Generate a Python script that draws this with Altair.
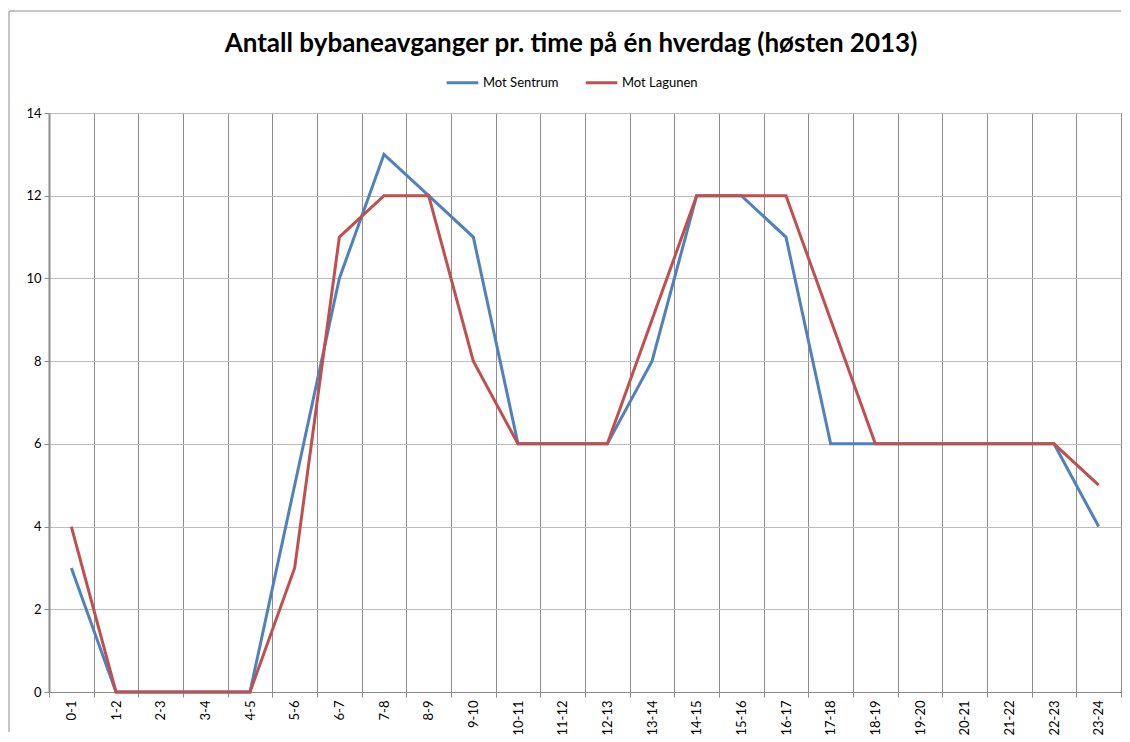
import altair as alt
import pandas as pd

hours = ["0-1", "1-2", "2-3", "3-4", "4-5", "5-6", "6-7", "7-8", "8-9", "9-10",
         "10-11", "11-12", "12-13", "13-14", "14-15", "15-16", "16-17", "17-18",
         "18-19", "19-20", "20-21", "21-22", "22-23", "23-24"]
sentrum = [3, 0, 0, 0, 0, 5, 10, 13, 12, 11, 6, 6, 6, 8, 12, 12, 11, 6, 6, 6, 6, 6, 6, 4]
lagunen = [4, 0, 0, 0, 0, 3, 11, 12, 12, 8, 6, 6, 6, 9, 12, 12, 12, 9, 6, 6, 6, 6, 6, 5]
series = ["Mot Sentrum", "Mot Lagunen"]
colors = ["#4F81BD", "#C0504D"]
y_ticks = [0, 2, 4, 6, 8, 10, 12, 14]

df = pd.DataFrame({
    "time": hours * 2,
    "verdi": sentrum + lagunen,
    "retning": [series[0]] * len(hours) + [series[1]] * len(hours),
})

W = 1072
H = 579

lines = alt.Chart(df).mark_line(strokeWidth=3).encode(
    x=alt.X("time:N", sort=hours, bandPosition=0.5,
            scale=alt.Scale(type="band", paddingInner=0, paddingOuter=0),
            axis=alt.Axis(title=None, labelAngle=-90, tickBand="extent", grid=True,
                          gridColor="#8c8c8c", gridWidth=1, domainColor="#8c8c8c",
                          tickColor="#8c8c8c", tickSize=5, labelFontSize=13,
                          labelPadding=3, labelColor="#000000")),
    y=alt.Y("verdi:Q", scale=alt.Scale(domain=[0, 14], nice=False),
            axis=alt.Axis(title=None, values=y_ticks, grid=True, gridColor="#bcbcbc",
                          domainColor="#8c8c8c", domainWidth=2, tickColor="#8c8c8c",
                          tickSize=5, labelFontSize=13, labelPadding=3,
                          labelColor="#000000")),
    color=alt.Color("retning:N", scale=alt.Scale(domain=series, range=colors),
                    legend=alt.Legend(title=None, orient="none", legendX=396, legendY=-48,
                                      direction="horizontal", symbolType="stroke",
                                      symbolSize=1000, symbolStrokeWidth=3,
                                      labelFontSize=13, labelOffset=3,
                                      columnPadding=20, labelColor="#000000")),
)

frame_src = pd.DataFrame({"k": [0]})
left_rule = alt.Chart(frame_src).mark_rule(color="#8c8c8c", strokeWidth=1).encode(
    x=alt.value(-40), y=alt.value(-102), y2=alt.value(H + 40))
top_rule = alt.Chart(frame_src).mark_rule(color="#8c8c8c", strokeWidth=1).encode(
    x=alt.value(-40), x2=alt.value(W), y=alt.value(-102))

chart = alt.layer(left_rule, top_rule, lines).properties(
    width=W, height=H,
    title=alt.Title("Antall bybaneavganger pr. time på én hverdag (høsten 2013)",
                    fontSize=26, fontWeight="bold", font="Lato", anchor="middle",
                    frame="bounds", offset=-46, dx=6, color="#000000"),
    padding={"left": 0, "top": 2, "right": 0, "bottom": 0},
).configure(font="Lato").configure_view(stroke=None)

chart.save("out.html", embed_options={"renderer": "svg", "actions": False})
